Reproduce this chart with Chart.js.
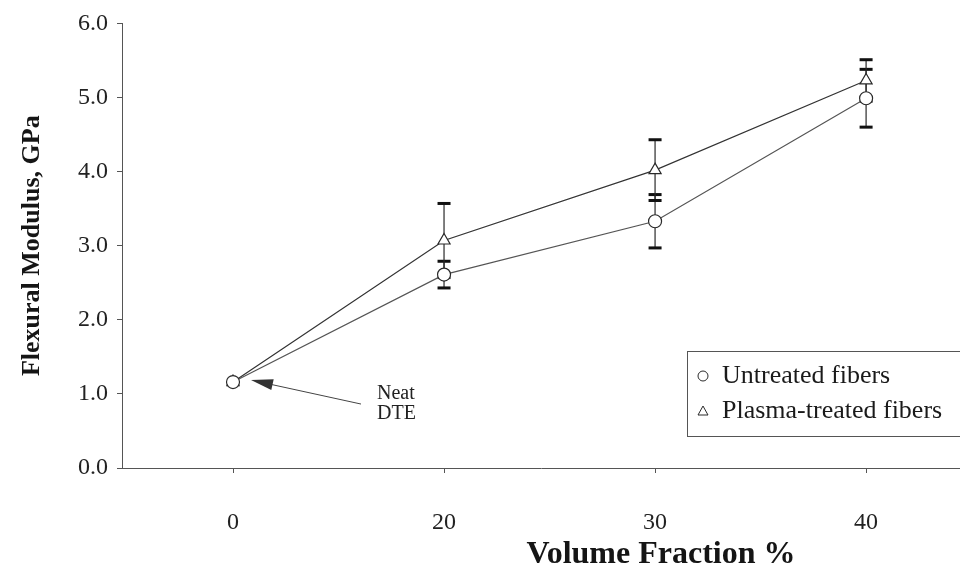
<!DOCTYPE html>
<html>
<head>
<meta charset="utf-8">
<title>Flexural Modulus vs Volume Fraction</title>
<script src="https://cdn.jsdelivr.net/npm/chart.js@4.4.1/dist/chart.umd.min.js"></script>
<style>
  html, body { margin: 0; padding: 0; background: #fff; overflow: hidden; }
  #wrap { width: 960px; height: 572px; position: relative; }
</style>
</head>
<body>
<div id="wrap"><canvas id="modulus"></canvas></div>
<script>
// values
const volumeFractions = ["0", "20", "30", "40"];
const untreated = [1.16, 2.61, 3.33, 4.99];
const untreatedErr = [0, 0.18, 0.36, 0.39];
const plasmaTreated = [1.16, 3.07, 4.02, 5.23];
const plasmaErr = [0, 0.5, 0.41, 0.28];
const yTicks = [0, 1, 2, 3, 4, 5, 6];

const serif = "'Liberation Serif', 'Times New Roman', serif";
const ink = "#2a2a2a";

// error bars drawn under the (white filled) markers
const errorBars = {
  id: "errorBars",
  beforeDatasetsDraw(chart) {
    const { ctx, scales: { x, y } } = chart;
    const errs = [untreatedErr, plasmaErr];
    ctx.save();
    chart.data.datasets.forEach((ds, di) => {
      ds.data.forEach((p, i) => {
        const e = errs[di][i];
        if (!e) return;
        const px = x.getPixelForValue(p.x);
        const top = y.getPixelForValue(p.y + e);
        const bot = y.getPixelForValue(p.y - e);
        ctx.strokeStyle = ink;
        ctx.lineWidth = 1.2;
        ctx.beginPath();
        ctx.moveTo(px, top);
        ctx.lineTo(px, bot);
        ctx.stroke();
        ctx.fillStyle = "#111";
        ctx.fillRect(px - 6.5, top - 1.5, 13, 3);
        ctx.fillRect(px - 6.5, bot - 1.5, 13, 3);
      });
    });
    ctx.restore();
  }
};

// "Neat DTE" note, legend box and x title
const decorations = {
  id: "decorations",
  afterDraw(chart) {
    const { ctx, scales: { x, y } } = chart;
    ctx.save();

    // arrow to the neat resin point
    const px = x.getPixelForValue(0);
    const py = y.getPixelForValue(untreated[0]);
    const tipX = px + 18, tipY = py - 2;
    const tailX = tipX + 110, tailY = tipY + 24;
    const ang = Math.atan2(tailY - tipY, tailX - tipX);
    ctx.strokeStyle = "#444";
    ctx.lineWidth = 1;
    ctx.beginPath();
    ctx.moveTo(tipX + 20 * Math.cos(ang), tipY + 20 * Math.sin(ang));
    ctx.lineTo(tailX, tailY);
    ctx.stroke();
    ctx.fillStyle = "#333";
    ctx.beginPath();
    ctx.moveTo(tipX, tipY);
    ctx.lineTo(tipX + 22 * Math.cos(ang) - 5.5 * Math.sin(ang), tipY + 22 * Math.sin(ang) + 5.5 * Math.cos(ang));
    ctx.lineTo(tipX + 22 * Math.cos(ang) + 5.5 * Math.sin(ang), tipY + 22 * Math.sin(ang) - 5.5 * Math.cos(ang));
    ctx.closePath();
    ctx.fill();
    ctx.fillStyle = "#222";
    ctx.font = "20px " + serif;
    ctx.textAlign = "left";
    ctx.textBaseline = "middle";
    ctx.fillText("Neat", tailX + 16, tailY - 10);
    ctx.fillText("DTE", tailX + 16, tailY + 10);

    // legend
    ctx.strokeStyle = "#555";
    ctx.lineWidth = 1;
    ctx.strokeRect(687.5, 351.5, 300, 85);
    const items = [
      { text: chart.data.datasets[0].label, style: "circle", yy: 376 },
      { text: chart.data.datasets[1].label, style: "triangle", yy: 411 }
    ];
    ctx.font = "26px " + serif;
    items.forEach(it => {
      ctx.strokeStyle = ink;
      ctx.lineWidth = 1;
      ctx.beginPath();
      if (it.style === "circle") {
        ctx.arc(703, it.yy, 5, 0, Math.PI * 2);
      } else {
        ctx.moveTo(703, it.yy - 5);
        ctx.lineTo(708, it.yy + 4);
        ctx.lineTo(698, it.yy + 4);
        ctx.closePath();
      }
      ctx.stroke();
      ctx.fillStyle = "#1a1a1a";
      ctx.fillText(it.text, 722, it.yy);
    });

    // x axis title
    ctx.font = "bold 32px " + serif;
    ctx.textAlign = "center";
    ctx.fillStyle = "#151515";
    ctx.fillText("Volume Fraction %", 661, 555);
    ctx.restore();
  }
};

new Chart(document.getElementById("modulus"), {
  type: "line",
  data: {
    datasets: [
      {
        label: "Untreated fibers",
        data: untreated.map((v, i) => ({ x: i, y: v })),
        borderColor: "#555",
        borderWidth: 1.2,
        pointStyle: "circle",
        pointRadius: 6.5,
        pointBackgroundColor: "#fff",
        pointBorderColor: ink,
        pointBorderWidth: 1.2,
        fill: false
      },
      {
        label: "Plasma-treated fibers",
        data: plasmaTreated.map((v, i) => ({ x: i, y: v })),
        borderColor: "#333",
        borderWidth: 1.2,
        pointStyle: "triangle",
        pointRadius: 7,
        pointBackgroundColor: "#fff",
        pointBorderColor: ink,
        pointBorderWidth: 1.2,
        fill: false
      }
    ]
  },
  options: {
    responsive: true,
    maintainAspectRatio: false,
    animation: false,
    layout: { autoPadding: false, padding: { top: 22, right: 0, left: 0, bottom: 0 } },
    plugins: {
      legend: { display: false },
      tooltip: { enabled: false }
    },
    scales: {
      x: {
        type: "linear",
        min: -0.526,
        max: 3.445,
        afterBuildTicks: scale => {
          scale.ticks = volumeFractions.map((c, i) => ({ value: i }));
        },
        afterFit: scale => { scale.height = 104; },
        border: { color: "#555", width: 1 },
        grid: { drawOnChartArea: false, tickLength: 5, color: "#555" },
        ticks: {
          callback: v => volumeFractions[v],
          padding: 35,
          color: "#222",
          font: { family: serif, size: 24 }
        }
      },
      y: {
        min: 0,
        max: 6,
        afterBuildTicks: scale => {
          scale.ticks = yTicks.map(v => ({ value: v }));
        },
        afterFit: scale => { scale.width = 122; },
        border: { color: "#555", width: 1 },
        grid: { drawOnChartArea: false, tickLength: 5, color: "#555" },
        ticks: {
          callback: v => v.toFixed(1),
          padding: 9,
          color: "#222",
          font: { family: serif, size: 24 }
        },
        title: {
          display: true,
          text: "Flexural Modulus, GPa",
          color: "#151515",
          font: { family: serif, size: 26, weight: "bold" },
          padding: { top: 17, bottom: 0 }
        }
      }
    }
  },
  plugins: [errorBars, decorations]
});
</script>
</body>
</html>
